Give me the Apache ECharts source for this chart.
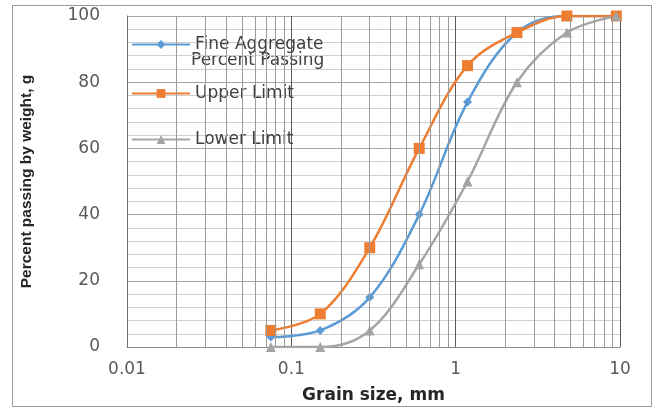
<!DOCTYPE html>
<html><head><meta charset="utf-8">
<script src="https://cdn.jsdelivr.net/npm/echarts@6/dist/echarts.min.js"></script>
<style>html,body{margin:0;padding:0;background:#fff}#c{width:656px;height:410px}</style>
</head><body><div id="c"></div>
<script>
const sieveSizes = [0.075, 0.15, 0.3, 0.6, 1.18, 2.36, 4.75, 9.5];
const finePassing = [3, 5, 15, 40, 74, 95, 100, 100];
const upperLimit = [5, 10, 30, 60, 85, 95, 100, 100];
const lowerLimit = [0, 0, 5, 25, 50, 80, 95, 100];
const xTickLabels = ['0.01', '0.1', '1', '10'];
const yTicks = [0, 20, 40, 60, 80, 100];

const minorX = [];
[0.01, 0.1, 1].forEach(d => { for (let k = 2; k <= 9; k++) minorX.push(+(d * k).toPrecision(3)); });

const pairs = arr => sieveSizes.map((x, i) => [x, arr[i]]);
const font = 'DejaVu Sans';

const chart = echarts.init(document.getElementById('c'), null, {renderer: 'canvas'});
const legendBase = {
  orient: 'vertical', left: 126, itemWidth: 58, itemHeight: 11, itemGap: 0,
  textStyle: {fontFamily: font, fontSize: 17, color: '#404040', padding: [0, 0, 0, 0]}
};
chart.setOption({
  animation: false,
  backgroundColor: '#fff',
  grid: {left: 127, right: 36, top: 16, bottom: 63},
  legend: [
    Object.assign({}, legendBase, {top: 31, data: ['Fine Aggregate']}),
    Object.assign({}, legendBase, {top: 80, data: ['Upper Limit']}),
    Object.assign({}, legendBase, {top: 126, data: ['Lower Limit']})
  ],
  graphic: [
    {type: 'rect', shape: {x: 12.5, y: 5.5, width: 639, height: 401}, style: {fill: 'none', stroke: '#9a9a9a', lineWidth: 1}, silent: true},
    {type: 'text', left: 191, top: 52, style: {text: 'Percent Passing', font: '17px "DejaVu Sans"', fill: '#404040'}, silent: true}
  ],
  xAxis: {
    type: 'log', logBase: 10, min: 0.01, max: 10,
    name: 'Grain size, mm', nameLocation: 'middle', nameGap: 40,
    nameTextStyle: {fontFamily: font, fontWeight: 'bold', fontSize: 17, color: '#262626'},
    axisLine: {show: true, lineStyle: {color: '#8c8c8c'}},
    axisTick: {show: false},
    axisLabel: {fontFamily: font, fontSize: 17, color: '#595959', margin: 14,
      formatter: v => { const s = xTickLabels.find(t => Math.abs(parseFloat(t) - v) < 1e-9); return s || ''; }},
    splitLine: {show: true, lineStyle: {color: '#5a5a5a', width: 1}}
  },
  yAxis: {
    type: 'value', min: 0, max: 100, interval: 20,
    name: 'Percent passing by weight, g', nameLocation: 'middle', nameGap: 92, nameRotate: 90,
    nameTextStyle: {fontFamily: 'Liberation Sans', fontWeight: 'bold', fontSize: 15.5, color: '#262626'},
    axisLine: {show: true, lineStyle: {color: '#6e6e6e'}},
    axisTick: {show: false},
    axisLabel: {fontFamily: font, fontSize: 17, color: '#595959', margin: 27,
      formatter: v => yTicks.includes(v) ? String(v) : ''},
    splitLine: {show: true, lineStyle: {color: '#a6a6a6'}},
    minorTick: {show: false, splitNumber: 5},
    minorSplitLine: {show: true, lineStyle: {color: '#d0d0d0'}}
  },
  series: [
    {
      name: 'Grid', type: 'line', data: [], silent: true,
      markLine: {symbol: 'none', silent: true, label: {show: false},
        lineStyle: {color: '#9a9a9a', type: 'solid', width: 1},
        data: minorX.map(v => ({xAxis: v}))}
    },
    {name: 'Fine Aggregate', type: 'line', data: pairs(finePassing), smooth: 0.35,
      symbol: 'diamond', symbolSize: 9, itemStyle: {color: '#5B9BD5'}, lineStyle: {width: 2.5, color: '#5B9BD5'}},
    {name: 'Upper Limit', type: 'line', data: pairs(upperLimit), smooth: 0.35,
      symbol: 'rect', symbolSize: 11, itemStyle: {color: '#ED7D31'}, lineStyle: {width: 2.5, color: '#ED7D31'}},
    {name: 'Lower Limit', type: 'line', data: pairs(lowerLimit), smooth: 0.35,
      symbol: 'triangle', symbolSize: 10, itemStyle: {color: '#A5A5A5'}, lineStyle: {width: 2.5, color: '#A5A5A5'}}
  ]
});
</script></body></html>
